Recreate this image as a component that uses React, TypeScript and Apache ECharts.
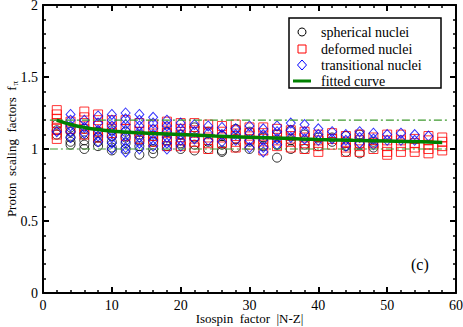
import React, { useEffect, useRef } from "react";
import * as echarts from "echarts";

// ---- data ----
const sphericalX = [2,2,2, 4,4,4,4,4, 6,6,6,6,6, 8,8,8,8, 10,10,10,10,10, 12,12,12,12, 14,14,14,14, 16,16,16,16, 18,18,18, 20,20,20, 22,22,22,22, 24,24,24, 26,26,26,26, 28,28,28, 30,30,30, 32,32, 34,34,34, 36,36,36, 38,38,38, 40,40, 42,42, 44,44,44, 46,46,46, 48,48];
const sphericalY = [1.17,1.13,1.10, 1.15,1.12,1.08,1.05,1.03, 1.14,1.10,1.06,1.03,1.00, 1.12,1.08,1.05,1.02, 1.13,1.09,1.05,1.01,0.99, 1.12,1.08,1.04,1.00, 1.10,1.06,1.02,0.96, 1.09,1.05,1.00,0.97, 1.12,1.06,1.02, 1.10,1.04,1.00, 1.15,1.08,1.03,0.99, 1.12,1.05,1.00, 1.09,1.03,0.99,0.98, 1.14,1.07,1.01, 1.12,1.05,1.00, 1.08,1.02, 1.10,1.03,0.94, 1.13,1.06,1.00, 1.10,1.03,1.00, 1.08,1.02, 1.08,1.05, 1.09,1.02,0.98, 1.10,1.03,0.97, 1.05,1.01];

const deformedX = [2,2,2,2,2,2,2, 4,4, 6,6,6,6,6, 8,8,8,8,8, 10,10,10, 12,12,12, 14,14,14, 16,16,16,16, 18,18,18,18,18, 20,20,20,20,20, 22,22,22,22,22, 24,24,24,24,24, 26,26,26,26, 28,28,28,28,28, 30,30,30,30, 32,32,32,32,32, 34,34,34,34, 36,36,36,36, 38,38,38,38, 40,40,40,40, 42,42,42, 44,44,44,44, 46,46,46,46, 48,48,48, 50,50,50,50,50, 52,52,52,52, 54,54,54,54, 56,56,56,56,56, 58,58,58,58];
const deformedY = [1.27,1.24,1.21,1.18,1.14,1.10,1.07, 1.19,1.14, 1.26,1.22,1.18,1.14,1.10, 1.24,1.20,1.16,1.12,1.08, 1.20,1.15,1.11, 1.20,1.14,1.09, 1.18,1.12,1.07, 1.17,1.13,1.09,1.05, 1.19,1.15,1.11,1.06,1.02, 1.18,1.14,1.10,1.06,1.02, 1.18,1.13,1.09,1.05,1.01, 1.17,1.12,1.08,1.04,1.00, 1.16,1.12,1.08,1.04, 1.17,1.13,1.09,1.05,1.01, 1.15,1.11,1.07,1.03, 1.15,1.11,1.07,1.03,0.99, 1.14,1.10,1.06,1.02, 1.13,1.09,1.05,1.01, 1.12,1.08,1.04,1.00, 1.10,1.06,1.02,0.98, 1.11,1.07,1.03, 1.09,1.05,1.01,0.98, 1.10,1.06,1.02,0.98, 1.08,1.04,1.00, 1.10,1.06,1.02,0.98,0.96, 1.10,1.06,1.02,0.98, 1.07,1.04,1.01,0.98, 1.09,1.06,1.03,1.00,0.97, 1.08,1.05,1.02,0.99];

const transitionalX = [2, 4,4,4,4,4, 6,6,6, 8,8,8,8,8, 10,10,10,10,10,10,10, 12,12,12,12,12,12,12,12, 14,14,14,14,14,14,14, 16,16,16,16,16,16, 18,18,18,18,18,18, 20,20,20,20,20, 22,22,22, 24,24,24, 26,26,26, 28,28,28, 30,30,30,30, 32,32,32,32,32, 34,34,34,34, 36,36,36, 38,38,38, 40,40,40, 42,42, 44,44,44, 46,46,46, 48,48,48, 50,50, 52,52, 54,54, 56];
const transitionalY = [1.12, 1.24,1.20,1.16,1.12,1.08, 1.20,1.15,1.11, 1.23,1.18,1.13,1.09,1.05, 1.24,1.20,1.16,1.12,1.08,1.04,1.00, 1.25,1.21,1.17,1.13,1.09,1.05,1.01,0.98, 1.24,1.20,1.16,1.12,1.08,1.04,1.00, 1.22,1.18,1.14,1.10,1.06,1.02, 1.20,1.16,1.12,1.08,1.04,1.00, 1.18,1.14,1.10,1.06,1.02, 1.17,1.12,1.07, 1.16,1.11,1.06, 1.15,1.10,1.05, 1.14,1.10,1.06, 1.16,1.11,1.06,1.01, 1.14,1.10,1.06,1.01,0.98, 1.16,1.12,1.07,1.03, 1.18,1.13,1.08, 1.17,1.12,1.07, 1.14,1.10,1.06, 1.12,1.07, 1.10,1.06,1.02, 1.12,1.08,1.04, 1.11,1.07,1.03, 1.10,1.06, 1.11,1.06, 1.10,1.06, 1.09];

const fitX = [2, 4, 6, 8, 10, 12, 14, 16, 20, 25, 30, 35, 40, 45, 50, 55, 58];
const fitY = [1.2, 1.17, 1.15, 1.135, 1.125, 1.118, 1.112, 1.107, 1.1, 1.09, 1.082, 1.074, 1.066, 1.06, 1.055, 1.05, 1.046];

const refLevels = [1.0, 1.2];
const refRange = [1, 59];

const xTicks = { min: 0, max: 60, interval: 10 };
const yTicks = { min: 0, max: 2, interval: 0.5 };

const legendLabels = ["spherical nuclei", "deformed nuclei", "transitional nuclei", "fitted curve"];

const FONT = "Liberation Serif";

function pairs(xs: number[], ys: number[]) {
  return xs.map((x, i) => [x, ys[i]]);
}

export default function App() {
  const ref = useRef<HTMLDivElement>(null);
  useEffect(() => {
    if (!ref.current) return;
    const chart = echarts.init(ref.current, null, { renderer: "svg" });
    const axisCommon = {
      type: "value" as const,
      splitLine: { show: false },
      axisLine: { show: true, onZero: false, lineStyle: { color: "#000", width: 2 } },
      axisTick: { show: true, inside: true, length: 6, lineStyle: { color: "#000", width: 2 } },
      minorTick: { show: true, splitNumber: 5, length: 3, lineStyle: { color: "#000", width: 1.5 } },
    };
    const labelStyle = { color: "#000", fontFamily: FONT, fontSize: 14, lineHeight: 13 };
    const legendX = 302;
    const legendTextX = 321;
    const legendYs = [32, 49, 65, 81];
    chart.setOption({
      animation: false,
      grid: { left: 43, right: 7, top: 5, bottom: 34, outerBoundsMode: "none", containLabel: false },
      xAxis: [
        {
          ...axisCommon, ...xTicks, position: "bottom",
          axisLabel: { ...labelStyle, margin: 6 },
          name: "Isospin  factor  |N-Z|", nameLocation: "middle", nameGap: 19, nameMoveOverlap: false,
          nameTextStyle: { color: "#000", fontFamily: FONT, fontSize: 13, lineHeight: 12 },
        },
        { ...axisCommon, ...xTicks, position: "top", axisLabel: { show: false } },
      ],
      yAxis: [
        {
          ...axisCommon, ...yTicks, position: "left",
          axisLabel: { ...labelStyle, margin: 5 },
          name: "{a|Proton  scaling  factors  f}{s|π}", nameLocation: "middle", nameGap: 24, nameRotate: 90, nameMoveOverlap: false,
          nameTextStyle: {
            color: "#000", fontFamily: FONT, fontSize: 13,
            rich: {
              a: { color: "#000", fontFamily: FONT, fontSize: 13 },
              s: { color: "#000", fontFamily: FONT, fontSize: 9, padding: [6, 0, 0, 1] },
            },
          },
        },
        { ...axisCommon, ...yTicks, position: "right", axisLabel: { show: false } },
      ],
      series: [
        {
          name: legendLabels[0], type: "scatter", symbol: "circle", symbolSize: 9,
          data: pairs(sphericalX, sphericalY),
          itemStyle: { color: "rgba(0,0,0,0)", borderColor: "#000", borderWidth: 1 },
        },
        {
          name: legendLabels[1], type: "scatter", symbol: "rect", symbolSize: 9,
          data: pairs(deformedX, deformedY),
          itemStyle: { color: "rgba(0,0,0,0)", borderColor: "#ff0000", borderWidth: 1 },
        },
        {
          name: legendLabels[2], type: "scatter", symbol: "diamond", symbolSize: [9, 10],
          data: pairs(transitionalX, transitionalY),
          itemStyle: { color: "rgba(0,0,0,0)", borderColor: "#0000ff", borderWidth: 1 },
        },
        ...refLevels.map((lv) => ({
          type: "line", symbol: "none", silent: true,
          data: refRange.map((x) => [x, lv]),
          lineStyle: { color: "#3f9a2f", width: 1.2, type: [8, 3, 2, 3] },
        })),
        {
          name: legendLabels[3], type: "line", symbol: "none", smooth: true,
          data: pairs(fitX, fitY),
          lineStyle: { color: "#008000", width: 3.5 },
        },
      ],
      graphic: [
        { type: "rect", shape: { x: 289, y: 18, width: 152, height: 70 }, style: { fill: "#fff", stroke: "#000", lineWidth: 1.5 }, z: 100 },
        { type: "circle", shape: { cx: legendX, cy: legendYs[0], r: 4 }, style: { fill: "none", stroke: "#000", lineWidth: 1 }, z: 101 },
        { type: "rect", shape: { x: legendX - 4, y: legendYs[1] - 4, width: 8, height: 8 }, style: { fill: "none", stroke: "#ff0000", lineWidth: 1 }, z: 101 },
        { type: "polygon", shape: { points: [[legendX, legendYs[2] - 5], [legendX + 4.5, legendYs[2]], [legendX, legendYs[2] + 5], [legendX - 4.5, legendYs[2]]] }, style: { fill: "none", stroke: "#0000ff", lineWidth: 1 }, z: 101 },
        { type: "line", shape: { x1: legendX - 9, y1: legendYs[3], x2: legendX + 9, y2: legendYs[3] }, style: { stroke: "#008000", lineWidth: 3 }, z: 101 },
        ...legendLabels.map((t, i) => ({
          type: "text", x: legendTextX, y: legendYs[i], z: 101,
          style: { text: t, fill: "#000", font: `14px ${FONT}`, verticalAlign: "middle" },
        })),
        { type: "text", x: 411, y: 264, z: 101, style: { text: "(c)", fill: "#000", font: `16px ${FONT}`, verticalAlign: "middle" } },
      ],
    });
    return () => chart.dispose();
  }, []);
  return <div ref={ref} style={{ width: 463, height: 327, position: "absolute", left: 0, top: 0 }} />;
}
